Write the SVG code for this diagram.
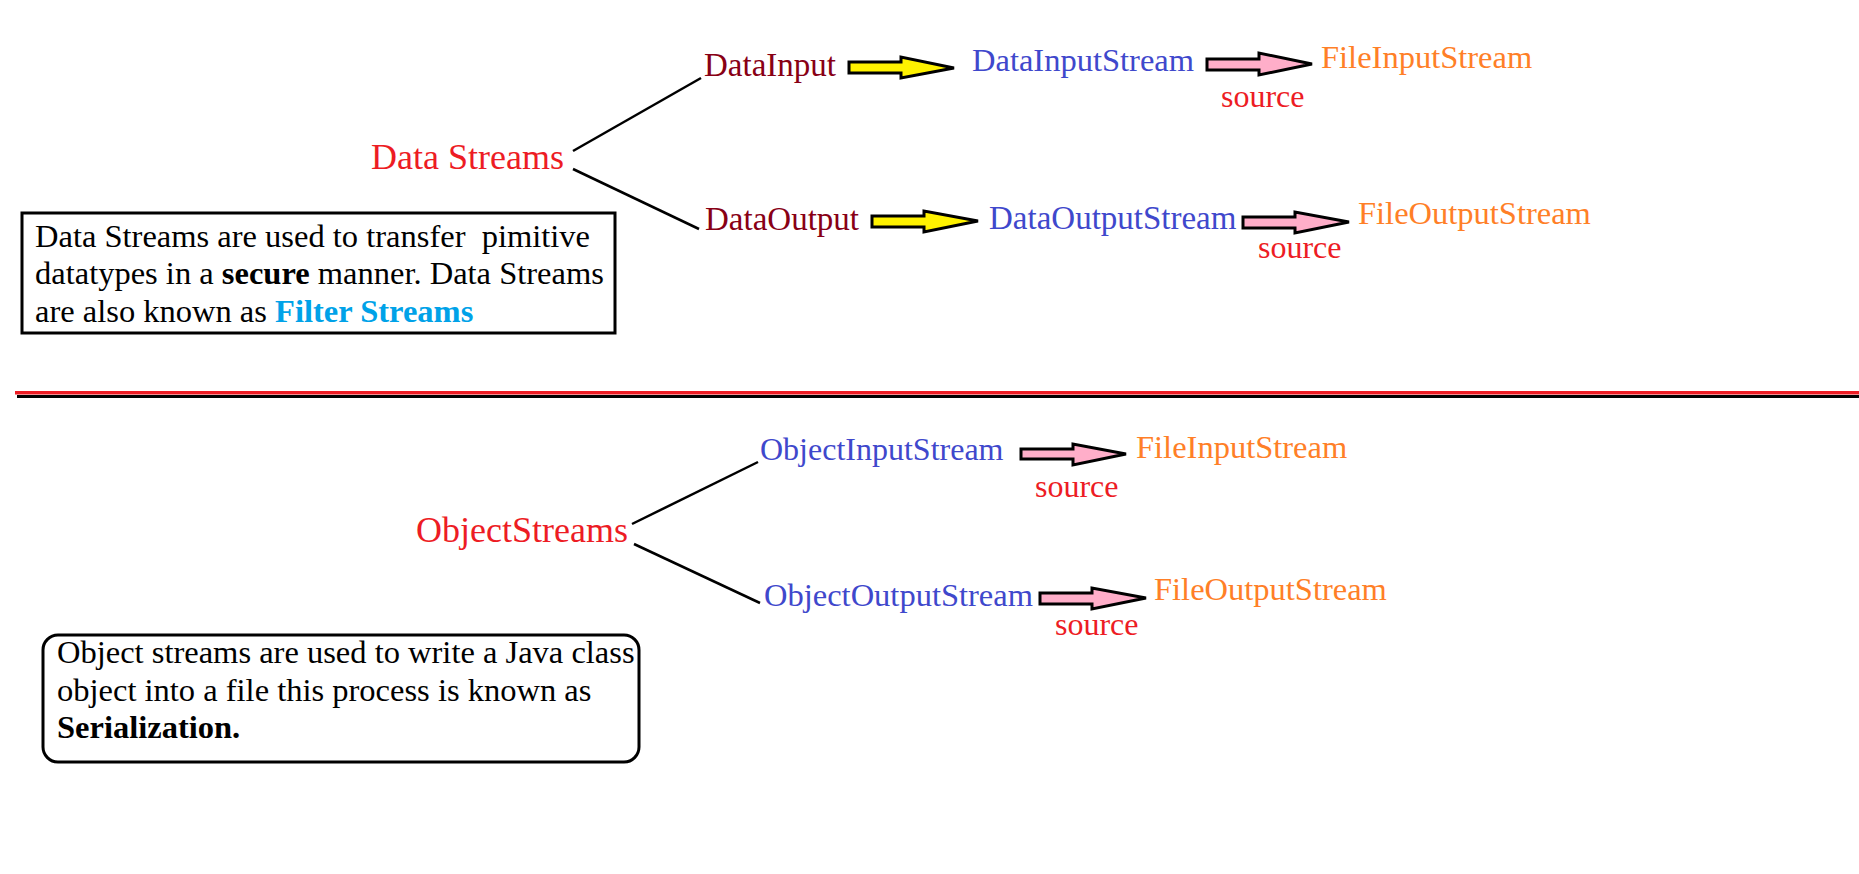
<svg xmlns="http://www.w3.org/2000/svg" width="1859" height="874" viewBox="0 0 1859 874">
<style>
text{font-family:"Liberation Serif","Times New Roman",serif;white-space:pre}
.root{font-size:36px;fill:#ED1C24}
.mid{font-size:33px;fill:#880015}
.blue{font-size:32.5px;fill:#3F48CC}
.file{font-size:32.5px;fill:#FF7F27}
.src{font-size:32px;fill:#ED1C24}
.note{font-size:32.5px;fill:#000}
.link{stroke:#000;stroke-width:2.5;fill:none}
.ya{fill:#FFF200;stroke:#000;stroke-width:3}
.pa{fill:#FFAEC9;stroke:#000;stroke-width:3}
.box{fill:#fff;stroke:#000;stroke-width:3}
</style>
<rect width="1859" height="874" fill="#fff"/>
<g id="divider">
<line x1="15" y1="392.8" x2="1859" y2="392.8" stroke="#ED1C24" stroke-width="3.4"/>
<line x1="17" y1="396.6" x2="1859" y2="396.6" stroke="#000" stroke-width="3"/>
</g>
<g id="connectors">
<line class="link" x1="573" y1="151" x2="701" y2="78"/>
<line class="link" x1="573" y1="169" x2="699" y2="229"/>
<line class="link" x1="632" y1="524" x2="758" y2="462"/>
<line class="link" x1="634" y1="544" x2="760" y2="603"/>
<polygon class="ya" points="849,62 901,62 901,57 954,68 901,78 901,73 849,73"/>
<polygon class="ya" points="872,216 924,216 924,211 978,221 924,232 924,227 872,227"/>
<polygon class="pa" points="1207,59 1259,59 1259,53 1312,64 1259,75 1259,70 1207,70"/>
<polygon class="pa" points="1243,217 1295,217 1295,212 1349,222 1295,233 1295,228 1243,228"/>
<polygon class="pa" points="1021,449 1073,449 1073,444 1126,454 1073,465 1073,459 1021,459"/>
<polygon class="pa" points="1040,593 1092,593 1092,588 1146,598 1092,609 1092,604 1040,604"/>
<text class="src" x="1221" y="107">source</text>
<text class="src" x="1258" y="258">source</text>
<text class="src" x="1035" y="497">source</text>
<text class="src" x="1055" y="635">source</text>
</g>
<g id="data-streams"><text class="root" x="371" y="169">Data Streams</text></g>
<g id="data-input"><text class="mid" x="704" y="76">DataInput</text></g>
<g id="data-output"><text class="mid" x="705" y="230">DataOutput</text></g>
<g id="data-input-stream"><text class="blue" x="972" y="71">DataInputStream</text></g>
<g id="data-output-stream"><text class="blue" x="989" y="229" style="font-size:33px">DataOutputStream</text></g>
<g id="file-input-stream-1"><text class="file" x="1321" y="68">FileInputStream</text></g>
<g id="file-output-stream-1"><text class="file" x="1358" y="224">FileOutputStream</text></g>
<g id="object-streams"><text class="root" x="416" y="542">ObjectStreams</text></g>
<g id="object-input-stream"><text class="blue" x="760" y="460" style="font-size:32px">ObjectInputStream</text></g>
<g id="object-output-stream"><text class="blue" x="764" y="606">ObjectOutputStream</text></g>
<g id="file-input-stream-2"><text class="file" x="1136" y="458">FileInputStream</text></g>
<g id="file-output-stream-2"><text class="file" x="1154" y="600">FileOutputStream</text></g>
<g id="note-data">
<rect class="box" x="22" y="213" width="593" height="120"/>
<text class="note" x="35" y="247">Data Streams are used to transfer  pimitive</text>
<text class="note" x="35" y="284">datatypes in a <tspan font-weight="bold">secure</tspan> manner. Data Streams</text>
<text class="note" x="35" y="322">are also known as <tspan font-weight="bold" fill="#00A2E8">Filter Streams</tspan></text>
</g>
<g id="note-object">
<rect class="box" x="43" y="635" width="596" height="127" rx="15" ry="15"/>
<text class="note" x="57" y="663">Object streams are used to write a Java class</text>
<text class="note" x="57" y="701">object into a file this process is known as</text>
<text class="note" x="57" y="738" font-weight="bold">Serialization.</text>
</g>
</svg>
